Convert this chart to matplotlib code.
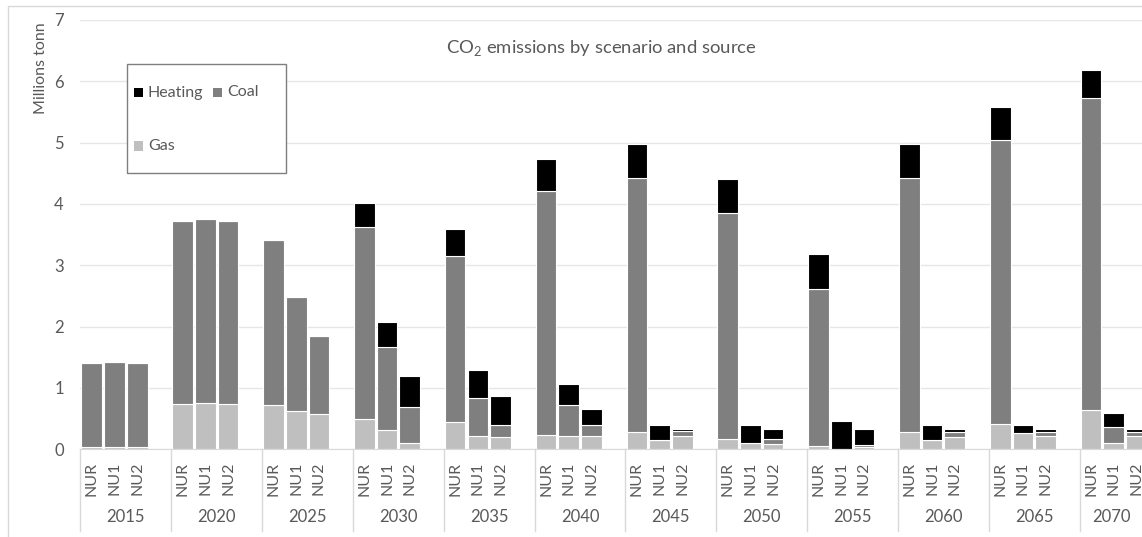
import numpy as np
import matplotlib
matplotlib.use('Agg')
import matplotlib.pyplot as plt
from matplotlib.patches import Rectangle
from matplotlib.lines import Line2D
import matplotlib.transforms as mtransforms

plt.rcParams['font.family'] = ['Lato', 'DejaVu Sans']
plt.rcParams['mathtext.fontset'] = 'custom'
plt.rcParams['mathtext.rm'] = 'Lato'

years = ['2015', '2020', '2025', '2030', '2035', '2040',
         '2045', '2050', '2055', '2060', '2065', '2070']
scenarios = ['NUR', 'NU1', 'NU2']

# millions of tonnes, one row per year, columns NUR / NU1 / NU2
gas = [[0.04, 0.04, 0.04],
       [0.74, 0.75, 0.74],
       [0.73, 0.62, 0.57],
       [0.50, 0.31, 0.11],
       [0.44, 0.22, 0.20],
       [0.24, 0.21, 0.21],
       [0.28, 0.15, 0.21],
       [0.16, 0.10, 0.08],
       [0.05, 0.00, 0.04],
       [0.28, 0.15, 0.20],
       [0.41, 0.26, 0.21],
       [0.64, 0.11, 0.21]]
coal = [[1.37, 1.38, 1.37],
        [2.99, 3.00, 2.98],
        [2.69, 1.87, 1.27],
        [3.12, 1.35, 0.58],
        [2.72, 0.62, 0.20],
        [3.97, 0.52, 0.18],
        [4.15, 0.00, 0.09],
        [3.69, 0.00, 0.09],
        [2.57, 0.00, 0.03],
        [4.15, 0.00, 0.09],
        [4.64, 0.00, 0.08],
        [5.09, 0.26, 0.08]]
heating = [[0.00, 0.00, 0.00],
           [0.00, 0.00, 0.00],
           [0.00, 0.00, 0.00],
           [0.40, 0.42, 0.51],
           [0.43, 0.45, 0.47],
           [0.53, 0.34, 0.27],
           [0.55, 0.24, 0.03],
           [0.56, 0.29, 0.16],
           [0.57, 0.46, 0.26],
           [0.55, 0.24, 0.04],
           [0.53, 0.14, 0.04],
           [0.46, 0.23, 0.04]]

col_heat = '#000000'
col_coal = '#7f7f7f'
col_gas = '#bfbfbf'
txt = '#595959'

W, H = 1142, 537
fig = plt.figure(figsize=(W / 100, H / 100), dpi=100)
ax = fig.add_axes([80.4 / W, 87.7 / H, 1090.2 / W, 429.3 / H])

gas_a = np.array(gas).ravel()
coal_a = np.array(coal).ravel()
heat_a = np.array(heating).ravel()
# four slots per year, the last one left empty as a spacer
x = np.array([g * 4 + s + 0.5 for g in range(len(years)) for s in range(len(scenarios))])

bw = 0.91
kw = dict(width=bw, edgecolor='white', linewidth=0.8)
ax.bar(x, gas_a, color=col_gas, **kw)
ax.bar(x, coal_a, bottom=gas_a, color=col_coal, **kw)
ax.bar(x, heat_a, bottom=gas_a + coal_a, color=col_heat, **kw)

ax.set_xlim(0, len(years) * 4)
ax.set_ylim(0, 7)
ax.set_yticks(range(0, 8))
ax.yaxis.grid(True, color='#e6e6e6', linewidth=1)
ax.set_axisbelow(True)
for sp in ['top', 'right', 'left']:
    ax.spines[sp].set_visible(False)
ax.spines['bottom'].set_color('#d9d9d9')
ax.tick_params(axis='y', length=0, pad=12, labelsize=12, labelcolor=txt)

ax.set_xticks(x)
ax.set_xticklabels(scenarios * len(years), rotation=90, va='top', ha='center')
ax.tick_params(axis='x', length=0, pad=9, labelsize=11.5, labelcolor=txt)

# year labels and group separators below the axis
trans = mtransforms.blended_transform_factory(ax.transData, ax.transAxes)
for g, yr in enumerate(years[:-1]):
    ax.text(g * 4 + 2, -0.158, yr, transform=trans, ha='center', va='center',
            fontsize=12, color=txt)
# the last year label is pulled in so it stays inside the figure
trans_edge = mtransforms.blended_transform_factory(fig.transFigure, ax.transAxes)
ax.text(1131 / W, -0.158, years[-1], transform=trans_edge, ha='right', va='center',
        fontsize=12, color=txt)
for g in range(len(years) + 1):
    ax.add_line(Line2D([g * 4, g * 4], [0, -0.19], transform=trans,
                       color='#d9d9d9', linewidth=1, clip_on=False))

ax.text(0.478, 0.935, r'CO$_{\mathrm{2}}$ emissions by scenario and source',
        transform=ax.transAxes, ha='center', va='center', fontsize=13.3, color=txt)

fig.text(41 / W, 1 - 68 / H, 'Millions tonn', rotation=90, ha='center', va='center',
         fontsize=11.5, color=txt)

# legend box
def fx(px):
    return px / W

def fy(py):
    return 1 - py / H

fig.add_artist(Rectangle((fx(127), fy(172.5)), fx(285.5) - fx(127), fy(64) - fy(172.5),
                         transform=fig.transFigure, facecolor='white',
                         edgecolor='#7f7f7f', linewidth=1))
entries = [('Heating', col_heat, 138, 92.5),
           ('Coal', col_coal, 217, 92.5),
           ('Gas', col_gas, 138, 146)]
for name, c, mx, my in entries:
    fig.add_artist(Rectangle((fx(mx - 4.5), fy(my + 4.5)), fx(9), 9 / H,
                             transform=fig.transFigure, facecolor=c, edgecolor='none'))
    fig.text(fx(mx + 10), fy(my), name, ha='left', va='center', fontsize=11.5, color=txt)

# outer chart border
fig.add_artist(Line2D([fx(8), fx(8), 1.0], [0.0, fy(6), fy(6)],
                      transform=fig.transFigure, color='#d9d9d9', linewidth=1))

fig.savefig('out.png', dpi=100)
